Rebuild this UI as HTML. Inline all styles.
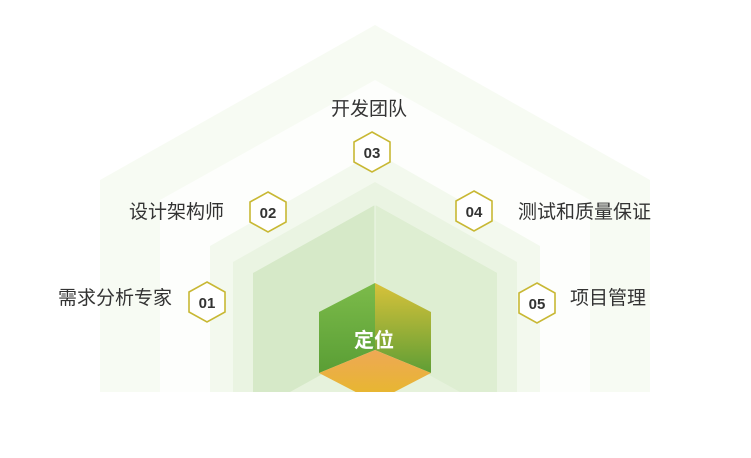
<!DOCTYPE html>
<html><head><meta charset="utf-8"><style>
body{margin:0;background:#fff;}
.t{position:absolute;font-family:"Liberation Sans","Noto Sans CJK SC",sans-serif;font-size:19px;color:#333;white-space:nowrap;line-height:1;}
</style></head><body>
<div style="position:relative;width:751px;height:458px;overflow:hidden;background:#fff;">
<svg width="751" height="458" style="position:absolute;left:0;top:0">
<defs>
<linearGradient id="rf" x1="0" y1="0" x2="0" y2="1"><stop offset="0" stop-color="#d8c23a"/><stop offset="1" stop-color="#5f9e35"/></linearGradient>
<linearGradient id="lf" x1="0" y1="0" x2="0" y2="1"><stop offset="0" stop-color="#7cbb4a"/><stop offset="1" stop-color="#5a9e35"/></linearGradient>
<linearGradient id="bf" x1="0" y1="0" x2="0" y2="1"><stop offset="0" stop-color="#eea855"/><stop offset="1" stop-color="#e6b92a"/></linearGradient>
<clipPath id="c"><rect x="0" y="0" width="751" height="392"/></clipPath>
</defs>
<g clip-path="url(#c)">
<polygon points="100,392 100,180 375,25 650,180 650,392" fill="#f7fbf3"/>
<polygon points="160,392 160,200 375,80 590,200 590,392" fill="#fdfefc"/>
<polygon points="210,392 210,246 375,152 540,246 540,392" fill="#f3f9ee"/>
<polygon points="233,392 233,262 375,182 517,262 517,392" fill="#eaf4e2"/>
<polygon points="253,392 253,273 375,205 497,273 497,392" fill="#d6e9c8"/>
<polygon points="375,205 497,273 497,392 375,392" fill="#deeed2"/>
<line x1="375" y1="205" x2="375" y2="392" stroke="#eef6e8" stroke-width="1"/>
<polygon points="290,392 375,345 460,392" fill="#e6f2dc"/>
<polygon points="319,312 375,283 375,350 319,373" fill="url(#lf)"/>
<polygon points="375,283 431,312 431,373 375,350" fill="url(#rf)"/>
<polygon points="375,350 431,373 375,402 319,373" fill="url(#bf)"/>
</g>
<g fill="#fff" stroke="#c8b834" stroke-width="1.6">
<polygon points="207,282 225,292 225,312 207,322 189,312 189,292"/>
<polygon points="268,192 286,202 286,222 268,232 250,222 250,202"/>
<polygon points="372,132 390,142 390,162 372,172 354,162 354,142"/>
<polygon points="474,191 492,201 492,221 474,231 456,221 456,201"/>
<polygon points="537,283 555,293 555,313 537,323 519,313 519,293"/>
</g>
<g font-family="Liberation Sans, sans-serif" font-weight="bold" font-size="15" fill="#333" text-anchor="middle">
<text x="207" y="308">01</text><text x="268" y="218">02</text><text x="372" y="158">03</text><text x="474" y="217">04</text><text x="537" y="309">05</text>
</g>
<text x="374" y="347" font-family="Liberation Sans, Noto Sans CJK SC, sans-serif" font-weight="bold" font-size="20" fill="#fff" text-anchor="middle">定位</text>
</svg>
<div class="t" style="left:331px;top:100px;">开发团队</div>
<div class="t" style="left:129px;top:203px;">设计架构师</div>
<div class="t" style="left:58px;top:289px;">需求分析专家</div>
<div class="t" style="left:518px;top:203px;">测试和质量保证</div>
<div class="t" style="left:570px;top:289px;">项目管理</div>
</div>
</body></html>
